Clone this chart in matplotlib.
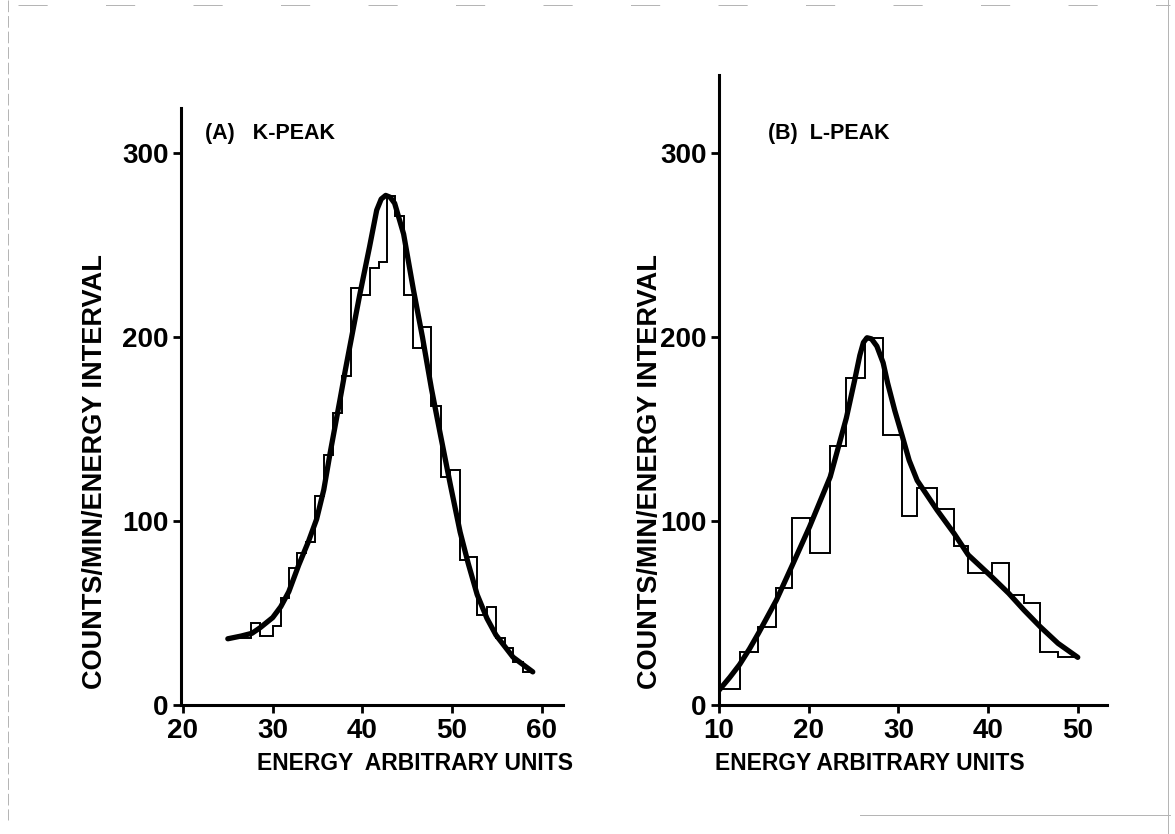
import matplotlib
matplotlib.use("Agg")
import matplotlib.pyplot as plt
from matplotlib.lines import Line2D

W, H = 1175, 834

# (A) K-peak: histogram bin edges / counts and the fitted curve
k_edges = [25.8, 27.6, 28.6, 30.0, 30.9, 31.8, 32.7, 33.7, 34.7, 35.7, 36.7,
           37.7, 38.7, 39.7, 40.8, 41.8, 42.7, 43.6, 44.6, 45.7, 46.7, 47.7,
           48.8, 49.8, 50.9, 51.8, 52.8, 53.9, 54.9, 55.9, 56.8, 57.9, 59.0]
k_counts = [36.5, 44.4, 37.5, 42.9, 58.3, 74.3, 82.8, 88.8, 113.6, 135.9,
            158.5, 179.0, 226.5, 222.8, 237.3, 240.9, 276.6, 266.0, 222.8,
            194.0, 205.6, 162.5, 124.0, 128.0, 78.8, 80.3, 48.9, 53.1, 36.2,
            30.8, 23.6, 18.1]
k_fit_x = [25.0, 26.5, 27.7, 28.6, 30.0, 30.9, 31.8, 32.9, 34.0, 34.9, 35.7,
           36.4, 37.5, 38.1, 39.0, 39.7, 40.8, 41.6, 42.1, 42.6, 43.1, 43.6,
           44.6, 45.7, 46.7, 47.7, 48.7, 49.8, 50.9, 51.8, 52.8, 53.9, 54.9,
           56.8, 59.0]
k_fit_y = [36.0, 37.5, 39.0, 42.0, 47.5, 53.4, 61.6, 76.0, 89.0, 101.0,
           117.0, 136.8, 165.8, 182.0, 205.0, 222.8, 249.0, 269.0, 275.0,
           277.0, 276.0, 272.7, 256.0, 225.5, 200.0, 172.0, 147.0, 120.0,
           94.0, 77.0, 60.0, 47.0, 38.0, 26.0, 18.0]

# (B) L-peak
l_edges = [10.0, 12.3, 14.4, 16.4, 18.1, 20.1, 22.4, 24.2, 26.3, 28.3, 30.4,
           32.1, 34.3, 36.2, 37.8, 40.4, 42.3, 44.0, 45.8, 47.8, 50.0]
l_counts = [8.5, 29.0, 42.6, 63.4, 101.8, 82.4, 140.8, 177.8, 199.4, 146.7,
            102.7, 118.1, 106.3, 86.4, 71.9, 77.3, 59.8, 55.6, 29.0, 25.9]
l_fit_x = [10.0, 11.2, 12.3, 13.4, 14.4, 16.4, 18.1, 20.1, 22.4, 24.2, 25.1,
           25.7, 26.1, 26.5, 27.0, 27.6, 28.3, 28.8, 29.6, 30.4, 31.2, 32.1,
           34.3, 36.2, 37.8, 40.4, 42.3, 44.0, 45.8, 47.8, 50.0]
l_fit_y = [8.0, 15.0, 22.0, 30.5, 39.0, 57.0, 75.2, 96.9, 124.0, 156.0,
           176.0, 190.0, 197.0, 199.6, 199.0, 195.0, 186.0, 175.0, 160.0,
           146.7, 133.0, 122.0, 106.0, 93.3, 81.5, 69.7, 60.7, 51.6, 42.6,
           33.5, 25.9]

y_ticks = [0, 100, 200, 300]
k_xticks = [20, 30, 40, 50, 60]
l_xticks = [10, 20, 30, 40, 50]

k_xlabel = "ENERGY  ARBITRARY UNITS"
l_xlabel = "ENERGY ARBITRARY UNITS"
ylabel = "COUNTS/MIN/ENERGY INTERVAL"

font = ["Liberation Sans", "DejaVu Sans"]


def fx(px):
    return px / W


def fy(py):
    return 1 - py / H


fig = plt.figure(figsize=(W / 100, H / 100), dpi=100)


def panel(rect, xlim, ylim, xticks, edges, counts, cx, cy):
    ax = fig.add_axes(rect)
    ax.stairs(counts, edges, baseline=None, color="black", lw=1.4)
    ax.plot(cx, cy, color="black", lw=3.8, solid_capstyle="round",
            solid_joinstyle="round")
    ax.set_xlim(*xlim)
    ax.set_ylim(*ylim)
    ax.set_xticks(xticks)
    ax.set_yticks(y_ticks)
    for s in ("top", "right"):
        ax.spines[s].set_visible(False)
    for s in ("left", "bottom"):
        ax.spines[s].set_linewidth(2.2)
    ax.tick_params(direction="out", length=6, width=2, pad=3)
    for lab in ax.get_xticklabels() + ax.get_yticklabels():
        lab.set_fontfamily(font)
        lab.set_fontweight("bold")
        lab.set_fontsize(20)
    return ax


axA = panel([fx(181), fy(705), (563 - 181) / W, (705 - 108) / H],
            (19.78, 62.37), (0, 324.5), k_xticks, k_edges, k_counts,
            k_fit_x, k_fit_y)
axB = panel([fx(719), fy(705), (1107 - 719) / W, (705 - 75) / H],
            (10.0, 53.26), (0, 342.4), l_xticks, l_edges, l_counts,
            l_fit_x, l_fit_y)

# panel titles
fig.text(fx(205), fy(133), "(A)   K-PEAK", family=font, weight="bold",
         fontsize=15.5, va="center", ha="left")
fig.text(fx(768), fy(133), "(B)  L-PEAK", family=font, weight="bold",
         fontsize=15.5, va="center", ha="left")

# axis labels
fig.text(fx(415), fy(764), k_xlabel, family=font, weight="bold",
         fontsize=16.5, ha="center", va="center")
fig.text(fx(870), fy(764), l_xlabel, family=font, weight="bold",
         fontsize=16.5, ha="center", va="center")
for cx in (95, 650):
    fig.text(fx(cx), fy(472), ylabel, family=font, weight="bold",
             fontsize=19.5, ha="center", va="center", rotation=90)

# faint edge of the sheet
edge = dict(color="0.7", lw=0.7, transform=fig.transFigure)
fig.add_artist(Line2D([fx(8), fx(8)], [fy(0), fy(820)], ls=(0, (12, 4)), **edge))
fig.add_artist(Line2D([fx(1168), fx(1168)], [fy(0), fy(834)], **edge))
fig.add_artist(Line2D([fx(18), fx(1170)], [fy(5), fy(5)], ls=(0, (30, 60)), **edge))
fig.add_artist(Line2D([fx(860), fx(1170)], [fy(815), fy(815)], **edge))

fig.savefig("out.png", dpi=100, facecolor="white")
